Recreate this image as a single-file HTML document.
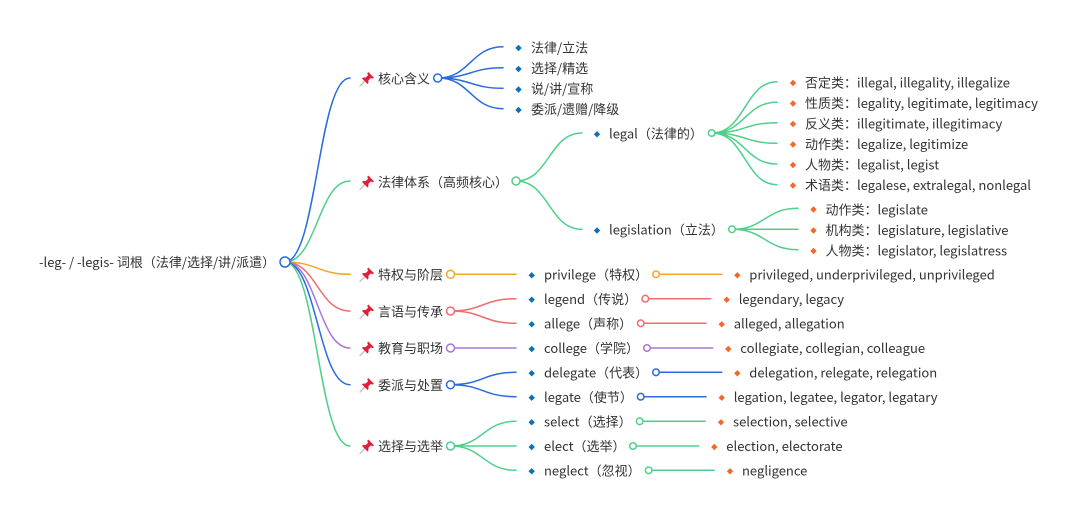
<!DOCTYPE html>
<html><head><meta charset="utf-8">
<style>
html,body{margin:0;padding:0;background:#fff;width:1080px;height:518px;overflow:hidden}
svg{display:block}
text{font-family:"Noto Sans CJK SC","Liberation Sans",sans-serif;font-size:13px;fill:#333}
.l{fill:none;stroke-width:1.5;stroke-linecap:round}
.c{fill:#fff;stroke-width:1.5}
.b{fill:#0b72b5}.o{fill:#f4692a}
.bl{stroke:#2a6be0}.gr{stroke:#4fd08a}.or{stroke:#f5a52c}.re{stroke:#ee6d6d}.pu{stroke:#a877d9}
</style></head><body>
<svg width="1080" height="518" viewBox="0 0 1080 518">
<defs>
<g id="pin" transform="scale(1.15)"><path d="M-6 6 L-1 1" stroke="#c9bfbf" stroke-width="1.2"/><path d="M1.5-6.5 L6.5-1.5 L5.2-.6 L3.8-1.4 L1.6.8 C2 2.2 1.7 3.2 1 4 L-4-1 C-3.200-1.700-2.200-2-.8-1.600 L1.400-3.800 L.6-5.200Z" fill="#e0203a"/></g>
<path id="db" d="M0-3.200 L3.200 0 L0 3.200 L-3.200 0Z" class="b"/>
<path id="do" d="M0-3.200 L3.200 0 L0 3.200 L-3.200 0Z" class="o"/>
</defs>

<!-- root links -->
<path class="l bl" d="M285 262C317 262 318 78 350 78"/>
<path class="l gr" d="M285 262C317 262 318 181 350 181"/>
<path class="l or" d="M285 262C317 262 318 274.300 350 274.300"/>
<path class="l re" d="M285 262C317 262 318 311 350 311"/>
<path class="l pu" d="M285 262C317 262 318 348 350 348"/>
<path class="l bl" d="M285 262C317 262 318 384.700 350 384.700"/>
<path class="l gr" d="M285 262C317 262 318 446 350 446"/>

<!-- level 2 -->
<path class="l bl" d="M438 78C470 78 471 46.700 503 46.700"/>
<path class="l bl" d="M438 78C470 78 471 67.700 503 67.700"/>
<path class="l bl" d="M438 78C470 78 471 88.300 503 88.300"/>
<path class="l bl" d="M438 78C470 78 471 108.700 503 108.700"/>
<path class="l gr" d="M516 181C549 181 549 133 582 133"/>
<path class="l gr" d="M516 181C549 181 549 229.300 582 229.300"/>
<path class="l or" d="M450.500 274.300H516"/>
<path class="l re" d="M450.500 311C483 311 483 298.700 516 298.700"/>
<path class="l re" d="M450.500 311C483 311 483 323.300 516 323.300"/>
<path class="l pu" d="M450.500 348H516"/>
<path class="l bl" d="M450.500 384.700C483 384.700 483 372.300 516 372.300"/>
<path class="l bl" d="M450.500 384.700C483 384.700 483 396.700 516 396.700"/>
<path class="l gr" d="M450.500 446C483 446 483 421.300 516 421.300"/>
<path class="l gr" d="M450.500 446H516"/>
<path class="l gr" d="M450.500 446C483 446 483 470.300 516 470.300"/>

<!-- level 3 -->
<path class="l gr" d="M712 133C745 133 745 81.700 777 81.700"/>
<path class="l gr" d="M712 133C745 133 745 102.300 777 102.300"/>
<path class="l gr" d="M712 133C745 133 745 122.700 777 122.700"/>
<path class="l gr" d="M712 133C745 133 745 143.300 777 143.300"/>
<path class="l gr" d="M712 133C745 133 745 164 777 164"/>
<path class="l gr" d="M712 133C745 133 745 184.700 777 184.700"/>
<path class="l gr" d="M732 229.300C765 229.300 765 208.300 798 208.300"/>
<path class="l gr" d="M732 229.300H798"/>
<path class="l gr" d="M732 229.300C765 229.300 765 249.700 798 249.700"/>
<path class="l or" d="M656 274.300H721.700"/>
<path class="l re" d="M645.300 298.700H710.700"/>
<path class="l re" d="M640.700 323.300H706"/>
<path class="l pu" d="M647 348H712.700"/>
<path class="l bl" d="M656 372.300H721.700"/>
<path class="l bl" d="M640.700 396.700H706"/>
<path class="l gr" d="M639.700 421.300H705"/>
<path class="l gr" d="M633 446H698.700"/>
<path class="l gr" d="M648.700 470.300H714.300"/>

<!-- circles -->
<circle class="c bl" cx="285" cy="262" r="5"/>
<circle class="c bl" cx="437.700" cy="78" r="4"/>
<circle class="c gr" cx="516" cy="181" r="4"/>
<circle class="c or" cx="450.500" cy="274.300" r="4"/>
<circle class="c re" cx="450.500" cy="311" r="4"/>
<circle class="c pu" cx="450.500" cy="348" r="4"/>
<circle class="c bl" cx="450.500" cy="384.700" r="4"/>
<circle class="c gr" cx="450.500" cy="446" r="4"/>
<circle class="c gr" cx="711.700" cy="133" r="3.300"/>
<circle class="c gr" cx="732" cy="229.300" r="3.300"/>
<circle class="c or" cx="656" cy="274.300" r="3.300"/>
<circle class="c re" cx="645.300" cy="298.700" r="3.300"/>
<circle class="c re" cx="640.700" cy="323.300" r="3.300"/>
<circle class="c pu" cx="647" cy="348" r="3.300"/>
<circle class="c bl" cx="656" cy="372.300" r="3.300"/>
<circle class="c bl" cx="640.700" cy="396.700" r="3.300"/>
<circle class="c gr" cx="639.700" cy="421.300" r="3.300"/>
<circle class="c gr" cx="633" cy="446" r="3.300"/>
<circle class="c gr" cx="648.700" cy="470.300" r="3.300"/>

<!-- pins -->
<use href="#pin" x="366.500" y="79.500"/>
<use href="#pin" x="366.500" y="183"/>
<use href="#pin" x="366.500" y="275"/>
<use href="#pin" x="366.500" y="312"/>
<use href="#pin" x="366.500" y="349"/>
<use href="#pin" x="366.500" y="385.500"/>
<use href="#pin" x="366.500" y="447"/>

<!-- diamonds -->
<use href="#db" x="518.500" y="48"/><use href="#db" x="518.500" y="69"/><use href="#db" x="518.500" y="89.500"/><use href="#db" x="518.500" y="110"/>
<use href="#db" x="597" y="134.300"/><use href="#db" x="597" y="230.500"/>
<use href="#db" x="531.700" y="275.300"/><use href="#db" x="531.700" y="299.700"/><use href="#db" x="531.700" y="324.300"/><use href="#db" x="531.700" y="349"/><use href="#db" x="531.700" y="373.300"/><use href="#db" x="531.700" y="397.700"/><use href="#db" x="531.700" y="422.300"/><use href="#db" x="531.700" y="447"/><use href="#db" x="531.700" y="471.300"/>
<use href="#do" x="793" y="83"/><use href="#do" x="793" y="103.500"/><use href="#do" x="793" y="124"/><use href="#do" x="793" y="144.500"/><use href="#do" x="793" y="165"/><use href="#do" x="793" y="185.500"/>
<use href="#do" x="813.500" y="209.500"/><use href="#do" x="813.500" y="230.500"/><use href="#do" x="813.500" y="251"/>
<use href="#do" x="737.300" y="275.300"/><use href="#do" x="726.700" y="299.700"/><use href="#do" x="721.700" y="324.300"/><use href="#do" x="728.300" y="349"/><use href="#do" x="737.300" y="373.300"/><use href="#do" x="721.700" y="397.700"/><use href="#do" x="721" y="422.300"/><use href="#do" x="714.300" y="447"/><use href="#do" x="730" y="471.300"/>

<!-- text -->
<text x="39" y="267">-leg- / -legis- 词根（法律/选择/讲/派遣）</text>
<text x="378" y="83.500">核心含义</text>
<text x="378" y="187">法律体系（高频核心）</text>
<text x="378" y="279.500">特权与阶层</text>
<text x="378" y="316.500">言语与传承</text>
<text x="378" y="353">教育与职场</text>
<text x="378" y="390">委派与处置</text>
<text x="378" y="451">选择与选举</text>
<text x="531" y="52.500">法律/立法</text>
<text x="531" y="73">选择/精选</text>
<text x="531" y="93.500">说/讲/宣称</text>
<text x="531" y="114">委派/遗赠/降级</text>
<text x="609" y="138.500">legal（法律的）</text>
<text x="609" y="234.500">legislation（立法）</text>
<text x="805" y="87.500">否定类：illegal, illegality, illegalize</text>
<text x="805" y="108">性质类：legality, legitimate, legitimacy</text>
<text x="805" y="128.500">反义类：illegitimate, illegitimacy</text>
<text x="805" y="149">动作类：legalize, legitimize</text>
<text x="805" y="169.500">人物类：legalist, legist</text>
<text x="805" y="190">术语类：legalese, extralegal, nonlegal</text>
<text x="825.500" y="214.500">动作类：legislate</text>
<text x="825.500" y="235">机构类：legislature, legislative</text>
<text x="825.500" y="255.500">人物类：legislator, legislatress</text>
<text x="544" y="279.500">privilege（特权）</text>
<text x="544" y="304">legend（传说）</text>
<text x="544" y="328.500">allege（声称）</text>
<text x="544" y="353">college（学院）</text>
<text x="544" y="377.500">delegate（代表）</text>
<text x="544" y="402">legate（使节）</text>
<text x="544" y="426.500">select（选择）</text>
<text x="544" y="451">elect（选举）</text>
<text x="544" y="475.500">neglect（忽视）</text>
<text x="749.300" y="279.500">privileged, underprivileged, unprivileged</text>
<text x="738.700" y="304">legendary, legacy</text>
<text x="733.700" y="328.500">alleged, allegation</text>
<text x="740.300" y="353">collegiate, collegian, colleague</text>
<text x="749.300" y="377.500">delegation, relegate, relegation</text>
<text x="733.700" y="402">legation, legatee, legator, legatary</text>
<text x="733" y="426.500">selection, selective</text>
<text x="726.300" y="451">election, electorate</text>
<text x="742" y="475.500">negligence</text>
</svg>
</body></html>
